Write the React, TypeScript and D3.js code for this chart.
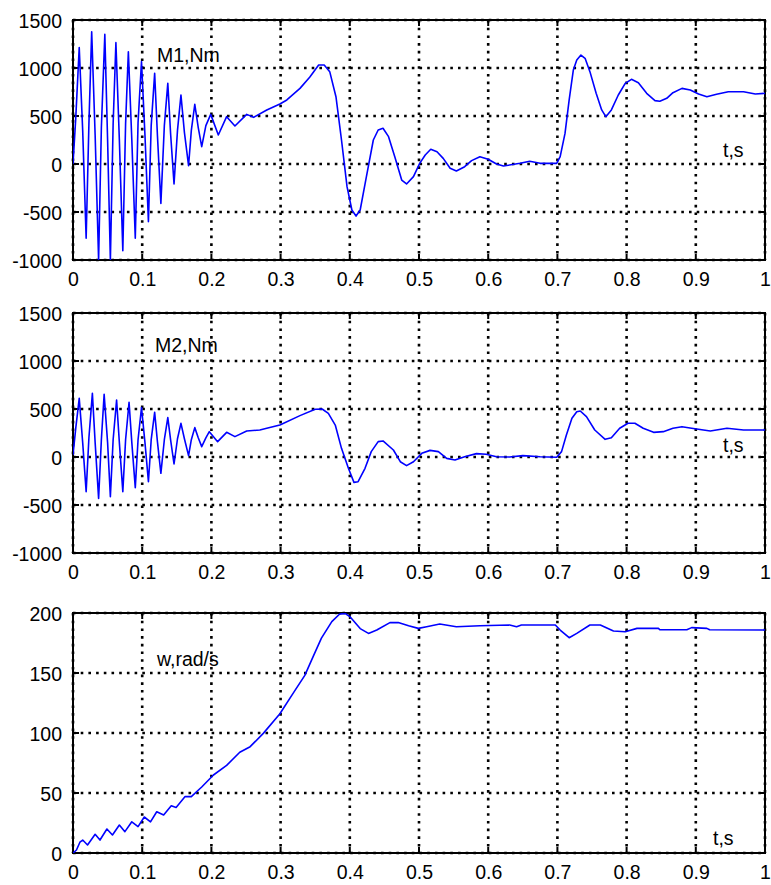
import React, { useEffect, useRef } from "react";
import * as d3 from "d3";

// tick values
const timeTicks = [0, 0.1, 0.2, 0.3, 0.4, 0.5, 0.6, 0.7, 0.8, 0.9, 1];
const torqueTicks = [-1000, -500, 0, 500, 1000, 1500];
const speedTicks = [0, 50, 100, 150, 200];

// M1, Nm  [t, value]
const m1: [number, number][] = [
  [0, 0], [0.004, 480], [0.009, 1212], [0.014, 350], [0.019, -774],
  [0.023, 420], [0.027, 1378], [0.032, 300], [0.037, -1000],
  [0.041, 380], [0.046, 1350], [0.050, 250], [0.054, -1000],
  [0.058, 420], [0.062, 1264], [0.067, 250], [0.072, -903],
  [0.076, 420], [0.080, 1170], [0.085, 250], [0.090, -774],
  [0.094, 430], [0.099, 1066], [0.104, 300], [0.109, -600],
  [0.113, 400], [0.118, 944], [0.122, 300], [0.127, -410],
  [0.132, 400], [0.137, 840], [0.141, 320], [0.146, -208],
  [0.151, 350], [0.156, 719], [0.161, 330], [0.167, -17],
  [0.171, 350], [0.176, 621], [0.181, 380], [0.186, 180],
  [0.192, 400], [0.199, 517], [0.21, 302], [0.222, 493], [0.234, 396],
  [0.251, 517], [0.261, 486], [0.280, 562], [0.299, 625], [0.309, 667],
  [0.328, 788], [0.342, 903], [0.355, 1031], [0.363, 1031], [0.371, 962],
  [0.380, 701], [0.388, 250], [0.396, -236], [0.403, -479], [0.409, -542],
  [0.415, -479], [0.424, -132], [0.434, 250], [0.441, 354], [0.448, 372],
  [0.456, 285], [0.465, 76], [0.475, -167], [0.482, -208], [0.492, -132],
  [0.501, 7], [0.509, 94], [0.517, 153], [0.526, 128], [0.535, 59],
  [0.545, -45], [0.554, -73], [0.566, -28], [0.576, 35], [0.588, 76],
  [0.600, 49], [0.612, 0], [0.622, -21], [0.646, 7], [0.660, 28],
  [0.675, 7], [0.699, 7], [0.704, 76], [0.711, 319], [0.717, 667],
  [0.723, 979], [0.728, 1083], [0.734, 1135], [0.740, 1101], [0.747, 962],
  [0.756, 736], [0.764, 563], [0.770, 493], [0.778, 563], [0.788, 719],
  [0.798, 840], [0.807, 882], [0.817, 847], [0.829, 736], [0.841, 660],
  [0.848, 653], [0.858, 684], [0.867, 743], [0.880, 788], [0.892, 771],
  [0.904, 729], [0.916, 701], [0.930, 726], [0.947, 753], [0.969, 753],
  [0.986, 729], [1.0, 736],
];

// M2, Nm  [t, value]
const m2: [number, number][] = [
  [0, 21], [0.004, 300], [0.009, 611], [0.014, 150], [0.019, -361],
  [0.023, 200], [0.028, 663], [0.032, 150], [0.037, -431],
  [0.041, 180], [0.045, 653], [0.050, 150], [0.054, -413],
  [0.058, 180], [0.063, 594], [0.067, 150], [0.072, -361],
  [0.076, 180], [0.081, 569], [0.085, 150], [0.090, -319],
  [0.094, 180], [0.099, 514], [0.104, 150], [0.109, -257],
  [0.113, 180], [0.118, 465], [0.122, 160], [0.127, -170],
  [0.132, 180], [0.137, 410], [0.141, 180], [0.146, -73],
  [0.151, 190], [0.156, 351], [0.161, 190], [0.167, 14],
  [0.171, 180], [0.176, 306], [0.181, 200], [0.186, 108],
  [0.192, 200], [0.197, 264], [0.209, 160], [0.222, 257], [0.234, 212],
  [0.251, 271], [0.270, 281], [0.280, 299], [0.299, 333], [0.328, 431],
  [0.350, 497], [0.360, 500], [0.369, 455], [0.379, 333], [0.388, 90],
  [0.398, -118], [0.406, -264], [0.412, -257], [0.422, -118], [0.431, 56],
  [0.441, 160], [0.448, 167], [0.463, 73], [0.473, -49], [0.482, -90],
  [0.492, -49], [0.504, 38], [0.516, 69], [0.528, 56], [0.540, -14],
  [0.552, -31], [0.566, 3], [0.583, 35], [0.597, 28], [0.612, 3],
  [0.631, 0], [0.650, 14], [0.675, 3], [0.699, -3], [0.706, 56],
  [0.713, 229], [0.721, 403], [0.728, 472], [0.733, 479], [0.742, 420],
  [0.754, 281], [0.769, 184], [0.778, 201], [0.790, 299], [0.802, 351],
  [0.812, 351], [0.824, 299], [0.839, 257], [0.853, 264], [0.867, 299],
  [0.880, 316], [0.894, 299], [0.911, 281], [0.921, 271], [0.945, 299],
  [0.969, 281], [1.0, 281],
];

// w, rad/s  [t, value]
const w: [number, number][] = [
  [0, 0], [0.005, 2.5], [0.010, 9], [0.014, 10.8], [0.021, 6.7],
  [0.032, 15.6], [0.039, 10.8], [0.049, 20], [0.057, 15], [0.067, 23.3],
  [0.075, 17.8], [0.085, 26], [0.094, 22], [0.103, 30], [0.112, 26],
  [0.121, 34.4], [0.131, 31.7], [0.142, 39.4], [0.149, 38], [0.162, 47],
  [0.171, 47], [0.186, 55], [0.203, 65], [0.222, 73], [0.241, 84],
  [0.256, 88.6], [0.275, 99.7], [0.299, 116], [0.318, 133], [0.335, 148],
  [0.347, 163.6], [0.359, 179], [0.374, 192.8], [0.385, 199], [0.393, 199.7],
  [0.400, 197], [0.415, 187], [0.427, 183], [0.439, 185.8], [0.458, 192],
  [0.470, 192], [0.485, 189.4], [0.499, 187.2], [0.511, 188.6], [0.530, 190.8],
  [0.554, 188.6], [0.588, 189.4], [0.631, 190], [0.641, 188.6], [0.648, 190],
  [0.697, 190], [0.704, 185.8], [0.717, 179.4], [0.728, 183], [0.747, 190],
  [0.762, 190], [0.781, 185], [0.798, 184.4], [0.815, 187.2], [0.846, 187.2],
  [0.848, 186], [0.887, 186], [0.894, 187.8], [0.916, 187.2], [0.920, 186],
  [1.0, 185.8],
];

const panels = [
  { id: "p1", data: m1, ticks: torqueTicks, top: 20, name: "M1,Nm", nameX: 157, nameY: 42, tX: 723, tY: 137 },
  { id: "p2", data: m2, ticks: torqueTicks, top: 313, name: "M2,Nm", nameX: 155, nameY: 39, tX: 723, tY: 139 },
  { id: "p3", data: w, ticks: speedTicks, top: 613, name: "w,rad/s", nameX: 157, nameY: 53, tX: 713, tY: 232 },
];

export default function App() {
  const ref = useRef<SVGSVGElement>(null);

  useEffect(() => {
    document.body.style.margin = "0";
    const svg = d3.select(ref.current);
    svg.selectAll("*").remove();

    const width = 771;
    const height = 885;
    const marginLeft = 73;
    const marginRight = 6;
    const plotH = 240;
    const font = "'Liberation Sans', Arial, sans-serif";

    svg.attr("width", width).attr("height", height).attr("viewBox", [0, 0, width, height]);

    const x = d3.scaleLinear().domain([0, 1]).range([marginLeft, width - marginRight]);

    panels.forEach(p => {
      const y = d3
        .scaleLinear()
        .domain(d3.extent(p.ticks) as [number, number])
        .range([p.top + plotH, p.top]);

      const g = svg.append("g");

      g.append("clipPath")
        .attr("id", `clip-${p.id}`)
        .append("rect")
        .attr("x", marginLeft)
        .attr("y", p.top)
        .attr("width", width - marginRight - marginLeft)
        .attr("height", plotH);

      // frame
      g.append("rect")
        .attr("x", marginLeft)
        .attr("y", p.top)
        .attr("width", width - marginRight - marginLeft)
        .attr("height", plotH)
        .attr("fill", "none")
        .attr("stroke", "#000")
        .attr("stroke-width", 2);

      // dotted grid
      const grid = g.append("g").attr("stroke", "#000").attr("stroke-width", 2.6).attr("stroke-dasharray", "2.6 5.1");
      grid.selectAll("line.v")
        .data(timeTicks)
        .join("line")
        .attr("x1", d => x(d))
        .attr("x2", d => x(d))
        .attr("y1", p.top)
        .attr("y2", p.top + plotH);
      grid.selectAll("line.h")
        .data(p.ticks)
        .join("line")
        .attr("x1", marginLeft)
        .attr("x2", width - marginRight)
        .attr("y1", d => y(d))
        .attr("y2", d => y(d));

      // inward tick marks on all sides
      const tickLen = 6;
      const ticks = g.append("g").attr("stroke", "#000").attr("stroke-width", 2);
      timeTicks.forEach(t => {
        ticks.append("line").attr("x1", x(t)).attr("x2", x(t)).attr("y1", p.top + plotH).attr("y2", p.top + plotH - tickLen);
        ticks.append("line").attr("x1", x(t)).attr("x2", x(t)).attr("y1", p.top).attr("y2", p.top + tickLen);
      });
      p.ticks.forEach(v => {
        ticks.append("line").attr("x1", marginLeft).attr("x2", marginLeft + tickLen).attr("y1", y(v)).attr("y2", y(v));
        ticks.append("line").attr("x1", width - marginRight).attr("x2", width - marginRight - tickLen).attr("y1", y(v)).attr("y2", y(v));
      });

      // axes labels
      g.append("g")
        .attr("transform", `translate(0,${p.top + plotH})`)
        .call(d3.axisBottom(x).tickValues(timeTicks).tickSize(0).tickPadding(0).tickFormat(d => String(d)))
        .call(a => a.select(".domain").remove())
        .call(a =>
          a.selectAll("text")
            .attr("y", 26)
            .attr("dy", null)
            .attr("fill", "#000")
            .style("font-family", font)
            .style("font-size", "19.5px")
        );

      g.append("g")
        .attr("transform", `translate(${marginLeft},0)`)
        .call(d3.axisLeft(y).tickValues(p.ticks).tickSize(0).tickPadding(11).tickFormat(d => String(d)))
        .call(a => a.select(".domain").remove())
        .call(a =>
          a.selectAll("text")
            .attr("dy", "0.36em")
            .attr("fill", "#000")
            .style("font-family", font)
            .style("font-size", "19.5px")
        );

      // curve
      const line = d3
        .line<[number, number]>()
        .x(d => x(d[0]))
        .y(d => y(d[1]));

      g.append("path")
        .datum(p.data)
        .attr("clip-path", `url(#clip-${p.id})`)
        .attr("fill", "none")
        .attr("stroke", "#0000ff")
        .attr("stroke-width", 1.6)
        .attr("stroke-linejoin", "round")
        .attr("d", line);

      // inline labels
      g.append("text")
        .attr("x", p.nameX)
        .attr("y", p.top + p.nameY)
        .style("font-family", font)
        .style("font-size", "19.5px")
        .text(p.name);
      g.append("text")
        .attr("x", p.tX)
        .attr("y", p.top + p.tY)
        .style("font-family", font)
        .style("font-size", "19.5px")
        .text("t,s");
    });
  }, []);

  return <svg ref={ref} style={{ display: "block" }}></svg>;
}
